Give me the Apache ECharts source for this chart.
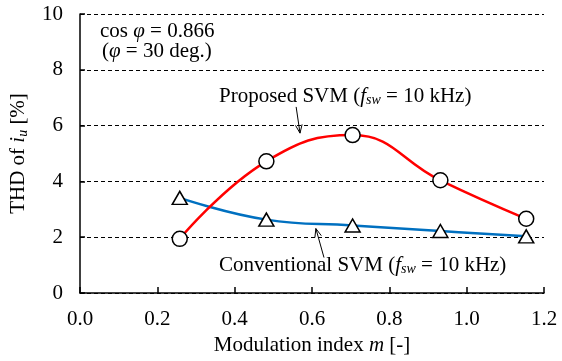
<!DOCTYPE html>
<html>
<head>
<meta charset="utf-8">
<script src="https://cdn.jsdelivr.net/npm/echarts@6/dist/echarts.min.js"></script>
<style>html,body{margin:0;padding:0;background:#fff}#c{width:562px;height:361px}</style>
</head>
<body>
<div id="c"></div>
<script>
const modIndex = [0.258, 0.482, 0.705, 0.932, 1.154];
const thdProposed = [1.94, 4.72, 5.66, 4.04, 2.66];
const thdConventional = [3.41, 2.63, 2.42, 2.22, 2.03];
const xTicks = ['0.0','0.2','0.4','0.6','0.8','1.0','1.2'];
const yTicks = ['0','2','4','6','8','10'];

const FONT = 'Liberation Serif';
const FS = 21;
const chart = echarts.init(document.getElementById('c'), null, {renderer: 'canvas'});

const pairs = (xs, ys) => xs.map((x, i) => [x, ys[i]]);
const markerStyle = {color: '#ffffff', borderColor: '#000000', borderWidth: 1.5};

const richBase = {
  it: {fontFamily: FONT, fontSize: FS, fontStyle: 'italic', color: '#000'},
  sub: {fontFamily: FONT, fontSize: 14, fontStyle: 'italic', color: '#000', padding: [9, 0, 0, 0]},
  n: {fontFamily: FONT, fontSize: FS, color: '#000'}
};

chart.setOption({
  animation: false,
  backgroundColor: '#ffffff',
  grid: {left: 78, right: 18, top: 14, bottom: 68, containLabel: false},
  xAxis: {
    type: 'value', min: 0, max: 1.2, interval: 0.2,
    name: '{n|Modulation index }{it|m}{n| [-]}',
    nameLocation: 'middle', nameGap: 41,
    nameTextStyle: {rich: richBase},
    axisLine: {lineStyle: {color: '#000', width: 1.5}},
    axisTick: {inside: true, length: 6, lineStyle: {color: '#000', width: 1.5}},
    axisLabel: {
      fontFamily: FONT, fontSize: FS, color: '#000', margin: 16,
      formatter: v => xTicks[Math.round(v / 0.2)]
    },
    splitLine: {show: false}
  },
  yAxis: {
    type: 'value', min: 0, max: 10, interval: 2,
    name: '{n|THD of }{it|i}{sub|u}{n| [%]}',
    nameLocation: 'middle', nameGap: 50, nameRotate: 90,
    nameTextStyle: {rich: richBase},
    axisLine: {show: true, lineStyle: {color: '#000', width: 1.5}},
    axisTick: {show: true, inside: true, length: 5, lineStyle: {color: '#000', width: 1.5}},
    axisLabel: {
      fontFamily: FONT, fontSize: FS, color: '#000', margin: 17,
      formatter: v => yTicks[Math.round(v / 2)]
    },
    splitLine: {show: true, lineStyle: {color: '#000', width: 1, type: [4, 3]}}
  },
  series: [
    {
      name: 'Conventional SVM', type: 'line', smooth: 0.45,
      data: pairs(modIndex, thdConventional),
      symbol: 'triangle', symbolSize: [15, 13],
      lineStyle: {color: '#0070C0', width: 2.5},
      itemStyle: markerStyle, z: 3
    },
    {
      name: 'Proposed SVM', type: 'line', smooth: 0.45,
      data: pairs(modIndex, thdProposed),
      symbol: 'circle', symbolSize: 15,
      lineStyle: {color: '#FF0000', width: 2.5},
      itemStyle: markerStyle, z: 4
    }
  ]
});

// Annotations (text + arrows positioned through the chart's own coordinate system)
function px(x, y) { return chart.convertToPixel({gridIndex: 0}, [x, y]); }
function arrow(from, to) {
  const a = px(from[0], from[1]), b = px(to[0], to[1]);
  const ang = Math.atan2(b[1] - a[1], b[0] - a[0]);
  const L = 9, W = 0.38;
  const p1 = [b[0] - L * Math.cos(ang - W), b[1] - L * Math.sin(ang - W)];
  const p2 = [b[0] - L * Math.cos(ang + W), b[1] - L * Math.sin(ang + W)];
  return [
    {type: 'line', shape: {x1: a[0], y1: a[1], x2: b[0], y2: b[1]}, style: {stroke: '#000', lineWidth: 1}, z: 10},
    {type: 'polyline', shape: {points: [p1, b, p2]}, style: {stroke: '#000', lineWidth: 1, fill: null}, z: 10}
  ];
}
function label(x, y, text) {
  return {type: 'text', x: x, y: y, z: 10,
    style: {text: text, rich: richBase, verticalAlign: 'middle', align: 'left', font: FS + 'px ' + FONT, fill: '#000'}};
}

chart.setOption({
  graphic: [
    label(100, 31, '{n|cos }{it|φ}{n| = 0.866}'),
    label(102, 51, '{n|(}{it|φ}{n| = 30 deg.)}'),
    label(219, 96, '{n|Proposed SVM (}{it|f}{sub|sw}{n| = 10 kHz)}'),
    label(219, 265, '{n|Conventional SVM (}{it|f}{sub|sw}{n| = 10 kHz)}'),
    ...arrow([0.559, 6.67], [0.569, 5.73]),
    ...arrow([0.631, 1.27], [0.610, 2.31])
  ]
});
</script>
</body>
</html>
